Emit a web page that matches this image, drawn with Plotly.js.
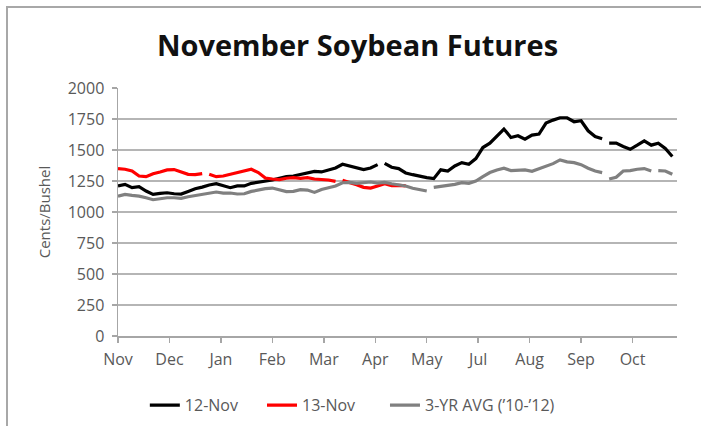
<!DOCTYPE html>
<html>
<head>
<meta charset="utf-8">
<script src="https://cdn.plot.ly/plotly-3.0.1.min.js"></script>
<style>
html,body{margin:0;padding:0;background:#fff;}
#wrap{position:relative;width:701px;height:426px;overflow:hidden;}
#chart{width:701px;height:426px;}
#frame{position:absolute;left:6px;top:6px;width:720px;height:440px;border-left:2px solid #a8a8a8;border-top:2px solid #a8a8a8;pointer-events:none;}
</style>
</head>
<body>
<div id="wrap"><div id="chart"></div><div id="frame"></div></div>
<script>
// trading-day index (category position) for each sample
const days = [0,3,6,9,12,15,18,21,24,27,30,33,36,39,42,45,48,51,54,57,
  60,63,66,69,72,75,78,81,84,87,90,93,96,99,102,105,108,111,114,117,
  120,123,126,129,132,135,138,141,144,147,150,153,156,159,162,165,168,171,174,177,
  180,183,186,189,192,195,198,201,204,207,210,213,216,219,222,225,228,231,234,237];

const monthLabels = ["Nov","Dec","Jan","Feb","Mar","Apr","May","Jul","Aug","Sep","Oct"];
const monthTickDays = [0,22,44,66,88,110,132,154,176,198,220];

const seriesNames = ["12-Nov","13-Nov","3-YR AVG (\u201910-\u201912)"];

// 12-Nov contract (cents/bushel)
const nov12 = [1210,1223,1196,1204,1169,1142,1150,1155,1147,1145,1166,1188,1201,1218,1228,1210,1196,1210,1210,1231,
  1239,1247,1258,1272,1285,1290,1301,1315,1328,1323,1339,1355,1385,1369,1355,1342,1355,1382,1393,1361,
  1350,1315,1301,1288,1277,1269,1340,1331,1371,1398,1385,1431,1520,1555,1615,1669,1601,1615,1587,1620,
  1628,1717,1741,1760,1760,1728,1736,1655,1609,1590,1555,1555,1528,1506,1539,1574,1539,1555,1512,1447];

// 13-Nov contract (cents/bushel)
const nov13 = [1350,1345,1331,1290,1285,1309,1323,1339,1342,1323,1304,1301,1309,1304,1285,1290,1304,1323,1336,1345,
  1318,1274,1266,1261,1272,1277,1272,1277,1266,1263,1258,1247,1255,1239,1220,1199,1193,1210,1228,1212,
  1215,1210];

// 3-year average ('10-'12)
const avg3 = [1128,1142,1134,1128,1115,1099,1107,1115,1115,1110,1123,1134,1142,1155,1161,1153,1153,1145,1147,1166,
  1180,1188,1193,1177,1164,1166,1180,1177,1158,1182,1196,1210,1236,1239,1231,1236,1242,1233,1239,1228,
  1220,1210,1191,1183,1169,1199,1210,1215,1223,1236,1231,1250,1285,1318,1339,1353,1334,1336,1339,1328,
  1350,1366,1390,1420,1404,1398,1382,1353,1331,1318,1266,1280,1331,1334,1345,1350,1331,1334,1331,1304];

// missing-data breaks (trading-day positions)
const gapsNov12 = [112.5, 208.5];
const gapsNov13 = [37.5, 94.2];
const gapsAvg = [133.5, 208.5, 229.5];

function build(vals, gaps) {
  const pts = vals.map((v, i) => [days[i], v]);
  gaps.forEach(g => pts.push([g, null]));
  pts.sort((a, b) => a[0] - b[0]);
  return {x: pts.map(p => p[0]), y: pts.map(p => p[1])};
}

const s1 = build(nov12, gapsNov12);
const s2 = build(nov13, gapsNov13);
const s3 = build(avg3, gapsAvg);

const traces = [
  {x: s1.x, y: s1.y, name: seriesNames[0], type: 'scatter', mode: 'lines', legend: 'legend',
   line: {color: '#000000', width: 3.2}, connectgaps: false},
  {x: s2.x, y: s2.y, name: seriesNames[1], type: 'scatter', mode: 'lines', legend: 'legend2',
   line: {color: '#ff0000', width: 3.2}, connectgaps: false},
  {x: s3.x, y: s3.y, name: seriesNames[2], type: 'scatter', mode: 'lines', legend: 'legend3',
   line: {color: '#808080', width: 3.2}, connectgaps: false}
];

const legBase = {orientation: 'h', xanchor: 'left', yref: 'container', y: 0.049, yanchor: 'middle',
                 font: {size: 16, color: '#595959'}, bgcolor: 'rgba(0,0,0,0)'};

const layout = {
  width: 701, height: 426,
  margin: {l: 118, r: 24, t: 88, b: 90, autoexpand: false},
  paper_bgcolor: '#ffffff', plot_bgcolor: '#ffffff',
  font: {family: '"Open Sans", Lato, sans-serif', size: 16, color: '#595959'},
  title: {text: '<b>November Soybean Futures</b>', x: 0.51, xanchor: 'center', y: 0.893, yanchor: 'middle',
          font: {family: '"Open Sans", sans-serif', size: 29, color: '#111111'}},
  xaxis: {
    type: 'linear', range: [0, 239], tickmode: 'array', tickvals: monthTickDays, ticktext: monthLabels,
    showgrid: false, zeroline: false, showline: true, linecolor: '#a6a6a6', linewidth: 1.5,
    ticks: 'outside', ticklen: 5, tickcolor: '#a6a6a6', tickwidth: 1.5, ticklabelstandoff: 3,
    tickfont: {size: 16, color: '#595959'}, fixedrange: true
  },
  yaxis: {
    range: [0, 2000], dtick: 250, tick0: 0, showgrid: true, gridcolor: '#b5b5b5', gridwidth: 1.5,
    zeroline: false, showline: true, linecolor: '#a6a6a6', linewidth: 1.5,
    ticks: 'outside', ticklen: 5, tickcolor: '#a6a6a6', tickwidth: 1.5, ticklabelstandoff: 4,
    tickfont: {size: 16, color: '#595959'},
    title: {text: 'Cents/Bushel', font: {size: 15, color: '#595959'}, standoff: 13},
    fixedrange: true
  },
  showlegend: true,
  legend: Object.assign({}, legBase, {x: 0.048}),
  legend2: Object.assign({}, legBase, {x: 0.2576}),
  legend3: Object.assign({}, legBase, {x: 0.4776})
};

Plotly.newPlot('chart', traces, layout, {displayModeBar: false, staticPlot: true});
</script>
</body>
</html>
